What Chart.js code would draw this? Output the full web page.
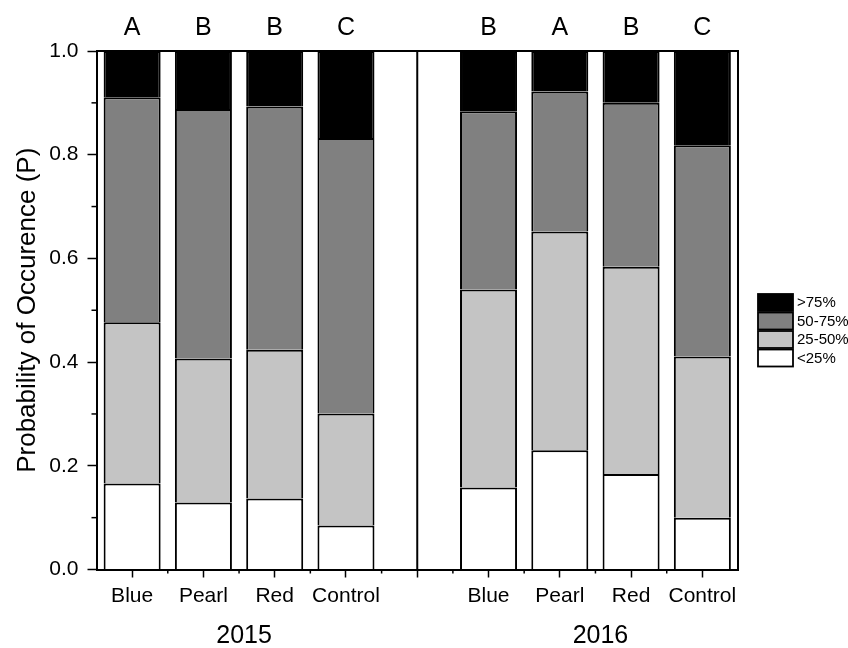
<!DOCTYPE html>
<html>
<head>
<meta charset="utf-8">
<script src="https://cdn.jsdelivr.net/npm/chart.js@4.4.1/dist/chart.umd.min.js"></script>
<style>
  body { margin: 0; background: #fff; }
  #wrap { width: 848px; height: 648px; }
</style>
</head>
<body>
<div id="wrap"><canvas id="occChart"></canvas></div>
<script>
// categories (blank slot separates the two years)
const categories = ['Blue', 'Pearl', 'Red', 'Control', '', 'Blue', 'Pearl', 'Red', 'Control'];
const years = ['2015', '2016'];
const letters = ['A', 'B', 'B', 'C', '', 'B', 'A', 'B', 'C'];
const yTicks = [0, 0.2, 0.4, 0.6, 0.8, 1.0];

// probability of occurence per cover class
const below25 = [0.166, 0.129, 0.137, 0.085, null, 0.158, 0.230, 0.184, 0.100];
const from25to50 = [0.311, 0.278, 0.287, 0.216, null, 0.382, 0.422, 0.400, 0.311];
const from50to75 = [0.434, 0.481, 0.469, 0.531, null, 0.344, 0.270, 0.316, 0.407];
const above75 = [0.089, 0.112, 0.107, 0.168, null, 0.116, 0.078, 0.100, 0.182];

const FONT = "'Liberation Sans', Arial, sans-serif";
Chart.defaults.font.family = FONT;
Chart.defaults.color = '#000';

const ctx = document.getElementById('occChart').getContext('2d');

function seg(label, data, color) {
    return {
        label: label,
        data: data,
        backgroundColor: color,
        borderColor: '#000',
        borderWidth: 2,
        borderSkipped: 'bottom'
    };
}

// extra marks: minor ticks, frame, separator, letters, year labels, legend
const extras = {
    id: 'extras',
    afterDraw(chart) {
        const c = chart.ctx;
        const x = chart.scales.x;
        const y = chart.scales.y;
        const a = chart.chartArea;
        const step = x.getPixelForValue(1) - x.getPixelForValue(0);
        c.save();
        c.strokeStyle = '#000';

        // frame top + right
        c.lineWidth = 2;
        c.beginPath();
        c.moveTo(a.left, a.top);
        c.lineTo(a.right, a.top);
        c.lineTo(a.right, a.bottom);
        c.stroke();

        // separator between years
        const sx = x.getPixelForValue(4);
        c.beginPath();
        c.moveTo(sx, a.top);
        c.lineTo(sx, a.bottom);
        c.stroke();

        // minor x ticks at slot edges
        c.lineWidth = 1.5;
        for (let i = 0; i < categories.length - 1; i++) {
            const px = x.getPixelForValue(i) + step / 2;
            c.beginPath();
            c.moveTo(px, a.bottom);
            c.lineTo(px, a.bottom + 4);
            c.stroke();
        }
        // minor y ticks
        for (let i = 0; i < yTicks.length - 1; i++) {
            const py = y.getPixelForValue(yTicks[i] + 0.1);
            c.beginPath();
            c.moveTo(a.left, py);
            c.lineTo(a.left - 5, py);
            c.stroke();
        }

        // significance letters
        c.font = '25px ' + FONT;
        c.fillStyle = '#000';
        c.textAlign = 'center';
        c.textBaseline = 'alphabetic';
        letters.forEach((t, i) => {
            if (t) c.fillText(t, x.getPixelForValue(i), a.top - 16);
        });

        // year labels
        years.forEach((yr, g) => {
            const cx = (x.getPixelForValue(g * 5) + x.getPixelForValue(g * 5 + 3)) / 2 + 5;
            c.fillText(yr, cx, 643);
        });

        // legend
        const items = [['>75%', '#000'], ['50-75%', '#808080'], ['25-50%', '#c4c4c4'], ['<25%', '#fff']];
        c.font = '15px ' + FONT;
        c.textAlign = 'left';
        c.textBaseline = 'middle';
        items.forEach((it, i) => {
            const bx = a.right + 20;
            const by = 294 + i * 18.5;
            c.fillStyle = it[1];
            c.fillRect(bx, by, 35, 17);
            c.lineWidth = 1.8;
            c.strokeRect(bx, by, 35, 17);
            c.fillStyle = '#000';
            c.fillText(it[0], bx + 39, by + 9);
        });
        c.restore();
    }
};

const occChart = new Chart(ctx, {
    type: 'bar',
    data: {
        labels: categories,
        datasets: [
            seg('<25%', below25, '#ffffff'),
            seg('25-50%', from25to50, '#c4c4c4'),
            seg('50-75%', from50to75, '#808080'),
            seg('>75%', above75, '#000000')
        ]
    },
    options: {
        responsive: true,
        maintainAspectRatio: false,
        animation: false,
        layout: {
            padding: { top: 51, right: 110, bottom: 0, left: 0 }
        },
        datasets: {
            bar: { barPercentage: 0.8, categoryPercentage: 1.0 }
        },
        plugins: {
            legend: { display: false },
            tooltip: { enabled: false }
        },
        scales: {
            x: {
                stacked: true,
                grid: {
                    offset: false,
                    drawOnChartArea: false,
                    color: '#000',
                    tickLength: 8,
                    tickWidth: 1.5
                },
                border: { display: true, color: '#000', width: 2 },
                ticks: {
                    font: { size: 21 },
                    padding: 6,
                    maxRotation: 0,
                    autoSkip: false
                },
                afterFit(scale) { scale.height = 78.5; }
            },
            y: {
                stacked: true,
                min: 0,
                max: 1,
                grid: {
                    drawOnChartArea: false,
                    color: '#000',
                    tickLength: 9,
                    tickWidth: 1.5
                },
                border: { display: true, color: '#000', width: 2 },
                ticks: {
                    stepSize: 0.2,
                    font: { size: 21 },
                    padding: 9,
                    callback: v => Number(v).toFixed(1)
                },
                title: {
                    display: true,
                    text: 'Probability of Occurence (P)',
                    font: { size: 26 },
                    padding: { top: 12, bottom: 0 }
                },
                afterFit(scale) { scale.width = 96.5; }
            }
        }
    },
    plugins: [extras]
});
</script>
</body>
</html>
